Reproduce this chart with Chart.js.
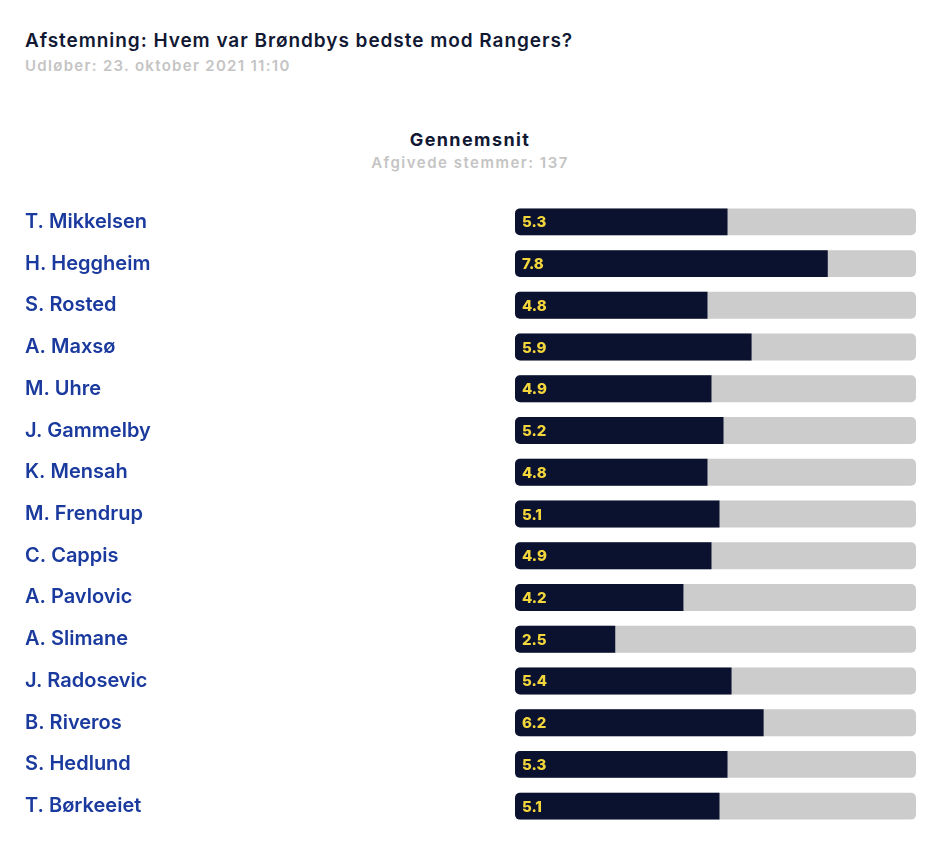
<!DOCTYPE html>
<html>
<head>
<meta charset="utf-8">
<script src="https://cdn.jsdelivr.net/npm/chart.js@4.4.0/dist/chart.umd.min.js"></script>
<style>
  html, body { margin: 0; padding: 0; background: #fff; }
  body { width: 950px; height: 843px; position: relative; font-family: Inter, "Open Sans", sans-serif; overflow: hidden; }
  .title { position: absolute; left: 25px; top: 29px; font-size: 19px; font-weight: 600; color: #111833; letter-spacing: 0.95px; }
  .expires { position: absolute; left: 25px; top: 56px; font-size: 15px; font-weight: 600; color: #c4c4c4; letter-spacing: 1.3px; }
  .heading { position: absolute; left: 0; width: 940px; text-align: center; top: 129px; font-size: 18px; font-weight: 700; color: #111833; letter-spacing: 1.4px; }
  .votes { position: absolute; left: 0; width: 940px; text-align: center; top: 153px; font-size: 15px; font-weight: 600; color: #c4c4c4; letter-spacing: 1.5px; }
  #wrap { position: absolute; left: 0; top: 186px; width: 950px; height: 656px; }
</style>
</head>
<body>
<div class="title">Afstemning: Hvem var Brøndbys bedste mod Rangers?</div>
<div class="expires">Udløber: 23. oktober 2021 11:10</div>
<div class="heading">Gennemsnit</div>
<div class="votes">Afgivede stemmer: 137</div>
<div id="wrap"><canvas id="myBarChart"></canvas></div>
<script>
// Spillere og gennemsnitskarakterer
var playerNames = ["T. Mikkelsen", "H. Heggheim", "S. Rosted", "A. Maxsø", "M. Uhre", "J. Gammelby",
  "K. Mensah", "M. Frendrup", "C. Cappis", "A. Pavlovic", "A. Slimane", "J. Radosevic",
  "B. Riveros", "S. Hedlund", "T. Børkeeiet"];
var averageScores = [5.3, 7.8, 4.8, 5.9, 4.9, 5.2, 4.8, 5.1, 4.9, 4.2, 2.5, 5.4, 6.2, 5.3, 5.1];
var maxScore = 10;
var trackValues = playerNames.map(function () { return maxScore; });

// Yellow value text inside the dark bars
var valueLabels = {
  id: 'valueLabels',
  afterDatasetsDraw: function (chart) {
    var ctx = chart.ctx;
    var meta = chart.getDatasetMeta(0);
    ctx.save();
    ctx.font = '800 15px Inter, sans-serif';
    ctx.fillStyle = '#f3d63c';
    ctx.textBaseline = 'middle';
    ctx.textAlign = 'left';
    meta.data.forEach(function (bar, i) {
      ctx.fillText(averageScores[i].toFixed(1), bar.base + 7, bar.y + 1);
    });
    ctx.restore();
  }
};

var ctx = document.getElementById("myBarChart");
new Chart(ctx, {
  type: 'bar',
  data: {
    labels: playerNames,
    datasets: [{
      label: "Gennemsnit",
      data: averageScores,
      backgroundColor: "#0b1230",
      borderRadius: { topLeft: 5, bottomLeft: 5, topRight: 0, bottomRight: 0 },
      borderSkipped: false,
      barPercentage: 0.645,
      categoryPercentage: 1
    }, {
      label: "Max",
      data: trackValues,
      backgroundColor: "#cccccc",
      borderRadius: 5,
      borderSkipped: false,
      barPercentage: 0.645,
      categoryPercentage: 1
    }]
  },
  options: {
    indexAxis: 'y',
    responsive: true,
    maintainAspectRatio: false,
    animation: false,
    layout: { padding: { left: 25, right: 34, top: 0, bottom: 0 } },
    scales: {
      x: {
        display: false,
        min: 0,
        max: maxScore
      },
      y: {
        grid: { display: false },
        border: { display: false },
        ticks: {
          crossAlign: 'far',
          color: '#1b3a9e',
          font: { family: 'Inter', size: 20, weight: '600' }
        },
        afterFit: function (scale) { scale.width = 490; }
      }
    },
    datasets: { bar: { grouped: false } },
    plugins: {
      legend: { display: false },
      tooltip: { enabled: false }
    }
  },
  plugins: [valueLabels]
});
</script>
</body>
</html>
